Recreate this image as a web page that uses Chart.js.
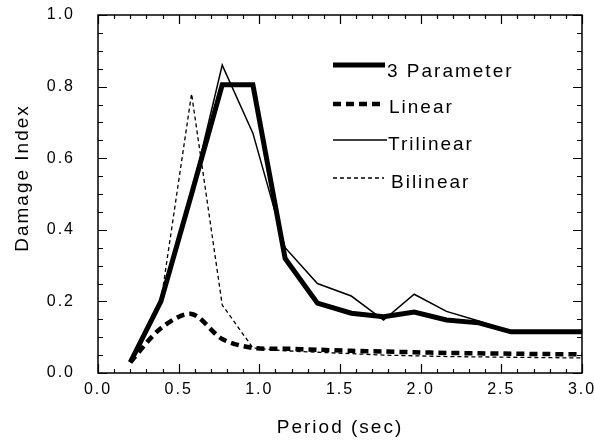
<!DOCTYPE html>
<html>
<head>
<meta charset="utf-8">
<script src="https://cdn.jsdelivr.net/npm/chart.js@4/dist/chart.umd.min.js"></script>
<style>
  html, body { margin: 0; padding: 0; background: #fff; }
  #wrap { width: 594px; height: 441px; }
</style>
</head>
<body>
<div id="wrap"><canvas id="chart-damage"></canvas></div>
<script>
// Damage index vs. period for four hysteresis models

const periods = [0.2, 0.39, 0.58, 0.77, 0.96, 1.16, 1.36, 1.57, 1.77, 1.96, 2.16, 2.36, 2.56, 2.76, 3.0];
const threeParam = [0.03, 0.2, 0.5, 0.805, 0.805, 0.32, 0.195, 0.167, 0.157, 0.17, 0.148, 0.14, 0.115, 0.115, 0.115];
const linear = [0.03, 0.125, 0.165, 0.095, 0.07, 0.068, 0.065, 0.062, 0.06, 0.058, 0.056, 0.055, 0.054, 0.053, 0.052];
const trilinear = [0.03, 0.2, 0.5, 0.86, 0.67, 0.35, 0.25, 0.215, 0.148, 0.22, 0.172, 0.145, 0.115, 0.115, 0.115];
const bilinear = [0.03, 0.2, 0.78, 0.19, 0.07, 0.062, 0.058, 0.054, 0.05, 0.048, 0.046, 0.045, 0.044, 0.043, 0.042];

const xTicks = [0, 0.5, 1.0, 1.5, 2.0, 2.5, 3.0];
const yTicks = [0, 0.2, 0.4, 0.6, 0.8, 1.0];

const FONT = "'Liberation Sans', Arial, sans-serif";

function pts(ys) {
    return periods.map((p, i) => ({ x: p, y: ys[i] }));
}

// letter spacing to mimic the wide typewriter-ish Helvetica of the scan
const spacingPlugin = {
    id: 'spacing',
    beforeDraw(chart) {
        chart.ctx.letterSpacing = '2px';
    }
};

// inward tick marks on all four sides + frame
const frameTicks = {
    id: 'frameTicks',
    afterDatasetsDraw(chart) {
        const { ctx, chartArea: a, scales } = chart;
        const xs = scales.x, ys = scales.y;
        ctx.save();
        ctx.strokeStyle = '#000';
        ctx.lineWidth = 1.2;
        ctx.beginPath();
        for (let i = 0; i <= 30; i++) {
            const v = i / 10;
            const px = Math.round(xs.getPixelForValue(v)) + 0.5;
            const len = (i % 5 === 0) ? 9 : 4;
            ctx.moveTo(px, a.bottom); ctx.lineTo(px, a.bottom - len);
            ctx.moveTo(px, a.top); ctx.lineTo(px, a.top + len);
        }
        for (let i = 0; i <= 20; i++) {
            const v = i / 20;
            const py = Math.round(ys.getPixelForValue(v)) + 0.5;
            const len = (i % 4 === 0) ? 9 : 5;
            ctx.moveTo(a.left, py); ctx.lineTo(a.left + len, py);
            ctx.moveTo(a.right, py); ctx.lineTo(a.right - len, py);
        }
        ctx.stroke();
        ctx.lineWidth = 1.5;
        ctx.strokeRect(a.left, a.top, a.right - a.left, a.bottom - a.top);
        ctx.restore();
    }
};

// legend drawn inside the plot, upper right
const insideLegend = {
    id: 'insideLegend',
    afterDraw(chart) {
        const ctx = chart.ctx;
        const rows = [
            { line: 65, base: 77, x0: 333, x1: 385, tx: 387 },
            { line: 104, base: 113, x0: 333, x1: 385, tx: 389 },
            { line: 140, base: 150, x0: 333, x1: 387, tx: 388 },
            { line: 178, base: 188, x0: 333, x1: 384, tx: 391 }
        ];
        ctx.save();
        ctx.fillStyle = '#000';
        ctx.strokeStyle = '#000';
        ctx.font = '19px ' + FONT;
        ctx.letterSpacing = '2px';
        ctx.textAlign = 'left';
        ctx.textBaseline = 'alphabetic';
        chart.data.datasets.forEach((ds, i) => {
            const r = rows[i];
            ctx.lineWidth = ds.borderWidth;
            ctx.setLineDash(ds.borderDash || []);
            ctx.beginPath();
            ctx.moveTo(r.x0, r.line);
            ctx.lineTo(r.x1, r.line);
            ctx.stroke();
            ctx.fillText(ds.label, r.tx, r.base);
        });
        ctx.setLineDash([]);

        // y axis title
        ctx.translate(23, 178);
        ctx.rotate(-Math.PI / 2);
        ctx.textAlign = 'center';
        ctx.textBaseline = 'middle';
        ctx.fillText('Damage Index', 0, 0);
        ctx.restore();
    }
};

new Chart(document.getElementById('chart-damage'), {
    type: 'line',
    data: {
        datasets: [
            {
                label: '3 Parameter',
                data: pts(threeParam),
                borderColor: '#000',
                borderWidth: 5,
                tension: 0,
                pointRadius: 0
            },
            {
                label: 'Linear',
                data: pts(linear),
                borderColor: '#000',
                borderWidth: 4.5,
                borderDash: [8, 5],
                tension: 0.3,
                pointRadius: 0
            },
            {
                label: 'Trilinear',
                data: pts(trilinear),
                borderColor: '#000',
                borderWidth: 1.5,
                tension: 0,
                pointRadius: 0
            },
            {
                label: 'Bilinear',
                data: pts(bilinear),
                borderColor: '#000',
                borderWidth: 1.3,
                borderDash: [4, 3],
                tension: 0,
                pointRadius: 0
            }
        ]
    },
    options: {
        responsive: true,
        maintainAspectRatio: false,
        animation: false,
        layout: { padding: { left: 0, top: 15, right: 12, bottom: 0 } },
        plugins: {
            legend: { display: false },
            tooltip: { enabled: false }
        },
        scales: {
            x: {
                type: 'linear',
                min: 0,
                max: 3,
                afterBuildTicks: (s) => { s.ticks = xTicks.map(v => ({ value: v })); },
                afterFit: (s) => { s.height = 68; s.paddingLeft = 0; s.paddingRight = 0; },
                grid: { display: false, drawTicks: false },
                border: { display: false },
                ticks: {
                    color: '#000',
                    padding: 7,
                    maxRotation: 0,
                    font: { family: FONT, size: 16 },
                    callback: (v) => v.toFixed(1)
                },
                title: {
                    display: true,
                    text: 'Period (sec)',
                    color: '#000',
                    font: { family: FONT, size: 19 },
                    padding: { top: 0, bottom: 2 }
                }
            },
            y: {
                min: 0,
                max: 1,
                afterBuildTicks: (s) => { s.ticks = yTicks.map(v => ({ value: v })); },
                afterFit: (s) => { s.width = 98; s.paddingTop = 0; s.paddingBottom = 0; },
                grid: { display: false, drawTicks: false },
                border: { display: false },
                ticks: {
                    color: '#000',
                    padding: 23,
                    font: { family: FONT, size: 16 },
                    callback: (v) => v.toFixed(1)
                }
            }
        }
    },
    plugins: [spacingPlugin, frameTicks, insideLegend]
});
</script>
</body>
</html>
